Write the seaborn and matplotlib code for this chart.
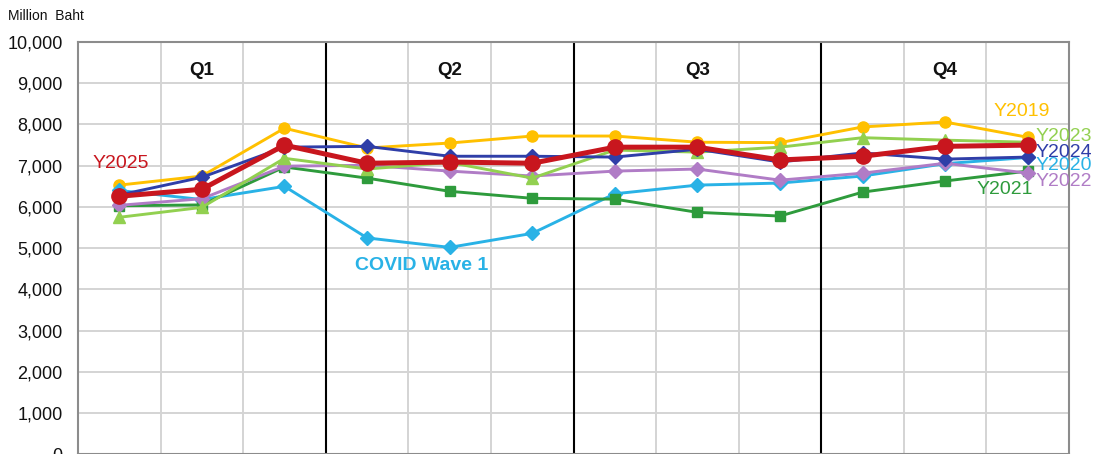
import numpy as np
import pandas as pd
import matplotlib
matplotlib.use("Agg")
import matplotlib.pyplot as plt
import seaborn as sns
from matplotlib.ticker import FuncFormatter

# Monthly values, million baht (Jan..Dec)
months = ["Jan", "Feb", "Mar", "Apr", "May", "Jun",
          "Jul", "Aug", "Sep", "Oct", "Nov", "Dec"]
y2019 = [6530, 6750, 7910, 7430, 7550, 7720, 7720, 7570, 7560, 7940, 8060, 7690]
y2020 = [6400, 6180, 6500, 5250, 5020, 5360, 6320, 6530, 6580, 6750, 7050, 7200]
y2021 = [6030, 6050, 6970, 6700, 6380, 6210, 6190, 5870, 5780, 6360, 6630, 6870]
y2022 = [6040, 6200, 6990, 7010, 6870, 6750, 6870, 6920, 6650, 6820, 7060, 6820]
y2023 = [5750, 5990, 7180, 6920, 7080, 6700, 7380, 7330, 7450, 7680, 7620, 7570]
y2024 = [6290, 6720, 7450, 7470, 7230, 7230, 7210, 7400, 7090, 7310, 7160, 7210]
y2025 = [6260, 6430, 7500, 7060, 7090, 7060, 7450, 7450, 7140, 7230, 7470, 7500]

quarters = ["Q1", "Q2", "Q3", "Q4"]
y_ticks = list(range(0, 10001, 1000))

series = [
    # name, values, colour, marker, line width, marker size
    ("Y2019", y2019, "#FFC000", "o", 2.1, 8),
    ("Y2020", y2020, "#29B2E6", "D", 2.1, 7),
    ("Y2021", y2021, "#2E9B3C", "s", 2.1, 7.5),
    ("Y2022", y2022, "#B07CC6", "D", 2.1, 7),
    ("Y2023", y2023, "#92D050", "^", 2.1, 8.5),
    ("Y2024", y2024, "#2F3EA8", "D", 2.1, 7),
    ("Y2025", y2025, "#C8161E", "o", 3.6, 11),
]

frames = []
for name, vals, *_ in series:
    frames.append(pd.DataFrame({"month": np.arange(len(months)), "value": vals, "year": name}))
df = pd.concat(frames, ignore_index=True)

sns.set_theme(style="white")
plt.rcParams["font.family"] = ["Liberation Sans", "DejaVu Sans"]

fig = plt.figure(figsize=(10.99, 4.54), dpi=100)
ax = fig.add_axes([78 / 1099, -0.001, (1069 - 78) / 1099, 0.9085])

for name, vals, color, marker, lw, ms in series:
    sub = df[df["year"] == name]
    sns.lineplot(data=sub, x="month", y="value", ax=ax, color=color,
                 marker=marker, linewidth=lw, markersize=ms,
                 markeredgecolor=color, markeredgewidth=1.0, legend=False)

ax.set_xlim(-0.5, len(months) - 0.5)
ax.set_ylim(0, 10000)
ax.set_xticks(np.arange(-0.5, len(months), 1))
ax.set_xticklabels([])
ax.set_yticks(y_ticks)
ax.yaxis.set_major_formatter(FuncFormatter(lambda v, p: f"{int(v):,}"))
ax.tick_params(axis="both", length=0)
ax.tick_params(axis="y", labelsize=13, pad=11, labelcolor="#111111")
ax.set_xlabel("")
ax.set_ylabel("")
ax.grid(True, color="#D4D4D4", linewidth=1.4)
ax.set_axisbelow(True)
for sp in ax.spines.values():
    sp.set_color("#8C8C8C")
    sp.set_linewidth(1.5)

# quarter dividers and headers
for q in range(1, len(quarters)):
    ax.axvline(q * 3 - 0.5, color="black", linewidth=1.5, zorder=1)
for i, q in enumerate(quarters):
    ax.text(i * 3 + 1, 9320, q, ha="center", va="center",
            fontsize=13.5, fontweight="bold", color="#111111")

# series labels
lbl = dict(fontsize=14, va="center", ha="left", clip_on=False)
ax.text(-0.33, 7050, "Y2025", color="#C8161E", **lbl)
ax.text(10.59, 8320, "Y2019", color="#FFC000", **lbl)
ax.text(11.1, 7700, "Y2023", color="#92D050", **lbl)
ax.text(11.1, 7320, "Y2024", color="#2F3EA8", **lbl)
ax.text(11.1, 7010, "Y2020", color="#29B2E6", **lbl)
ax.text(11.1, 6610, "Y2022", color="#B07CC6", **lbl)
ax.text(10.38, 6430, "Y2021", color="#2E9B3C", **lbl)
ax.text(2.85, 4590, "COVID Wave 1", color="#29B2E6", fontsize=14,
        fontweight="bold", va="center", ha="left")

fig.text(8 / 1099, 1 - 16 / 454, "Million  Baht", fontsize=10,
         va="center", ha="left", color="#111111")

fig.savefig("out.png", dpi=100)
